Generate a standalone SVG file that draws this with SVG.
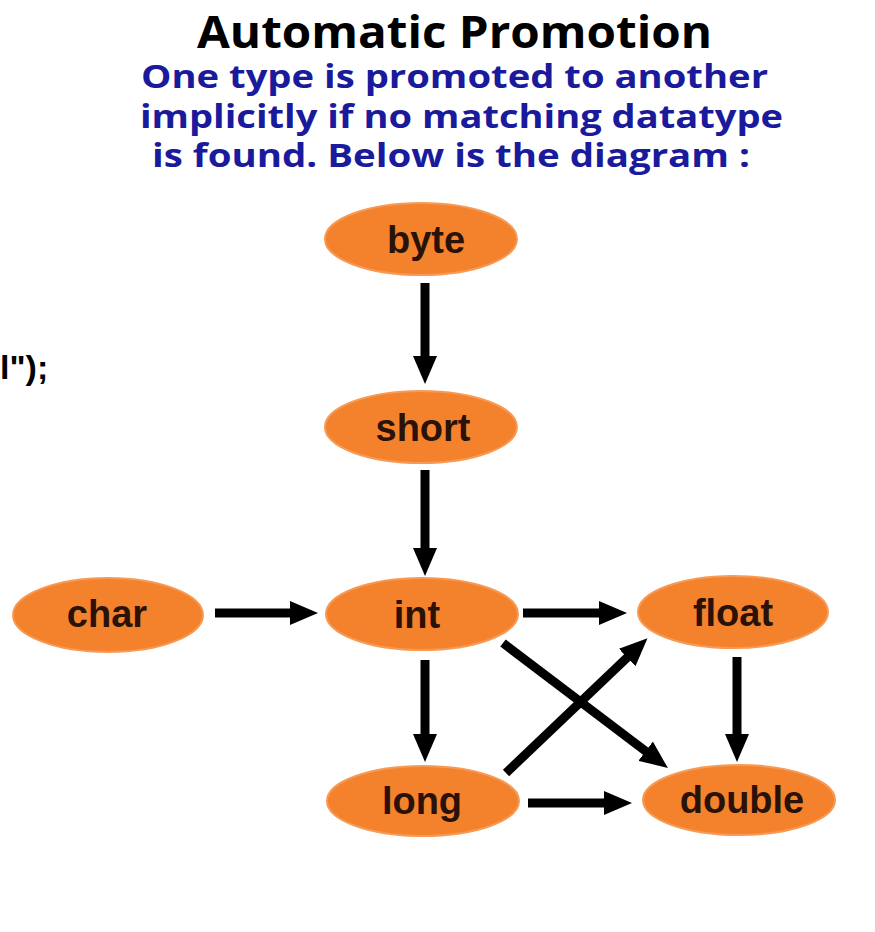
<svg xmlns="http://www.w3.org/2000/svg" width="875" height="932" viewBox="0 0 875 932">
<style>
.title{font-family:"Open Sans","Noto Sans","DejaVu Sans",sans-serif;font-weight:700;fill:#000}
.sub{font-family:"Open Sans","Noto Sans","DejaVu Sans",sans-serif;font-weight:700;fill:#1a1a9c;font-size:33px}
.node ellipse{fill:#f4822c;stroke:#f69a55;stroke-width:2}
.node text{font-family:"Liberation Sans",Arial,sans-serif;font-weight:700;font-size:38px;fill:#2a1208;text-anchor:middle}
.code{font-family:"Liberation Sans",Arial,sans-serif;font-weight:700;font-size:34px;fill:#000}
#edges line{stroke:#000;stroke-width:9;marker-end:url(#ah)}
</style>
<defs>
<marker id="ah" markerUnits="userSpaceOnUse" markerWidth="30" markerHeight="24" viewBox="0 0 30 24" refX="8" refY="12" orient="auto">
<path d="M0,0 L28,12 L0,24 z" fill="#000"/>
</marker>
</defs>
<rect width="875" height="932" fill="#fff"/>
<text class="title" x="197" y="48" font-size="44" textLength="515" lengthAdjust="spacingAndGlyphs">Automatic Promotion</text>
<text class="sub" x="141" y="88" textLength="627" lengthAdjust="spacingAndGlyphs">One type is promoted to another</text>
<text class="sub" x="140" y="128" textLength="643" lengthAdjust="spacingAndGlyphs">implicitly if no matching datatype</text>
<text class="sub" x="152" y="167" textLength="598" lengthAdjust="spacingAndGlyphs">is found. Below is the diagram :</text>
<text class="code" x="0" y="379">l");</text>
<g id="edges">
<line x1="425" y1="283" x2="425" y2="364"/>
<line x1="425" y1="470" x2="425" y2="556"/>
<line x1="215" y1="613" x2="298" y2="613"/>
<line x1="523" y1="613" x2="607" y2="613"/>
<line x1="425" y1="660" x2="425" y2="742"/>
<line x1="737" y1="657" x2="737" y2="742"/>
<line x1="528" y1="803" x2="612" y2="803"/>
<line x1="503" y1="643" x2="652" y2="756"/>
<line x1="506" y1="773" x2="633" y2="652"/>
</g>
<g id="node-byte" class="node"><ellipse cx="421" cy="239" rx="96" ry="36"/><text x="426" y="253">byte</text></g>
<g id="node-short" class="node"><ellipse cx="421" cy="427" rx="96" ry="36"/><text x="423" y="441">short</text></g>
<g id="node-char" class="node"><ellipse cx="108" cy="615" rx="95" ry="37"/><text x="107" y="627">char</text></g>
<g id="node-int" class="node"><ellipse cx="422" cy="614" rx="96" ry="36"/><text x="417" y="628">int</text></g>
<g id="node-float" class="node"><ellipse cx="733" cy="612" rx="95" ry="36"/><text x="733" y="626">float</text></g>
<g id="node-long" class="node"><ellipse cx="423" cy="801" rx="96" ry="35"/><text x="422" y="814">long</text></g>
<g id="node-double" class="node"><ellipse cx="739" cy="800" rx="96" ry="35"/><text x="742" y="813">double</text></g>
</svg>
